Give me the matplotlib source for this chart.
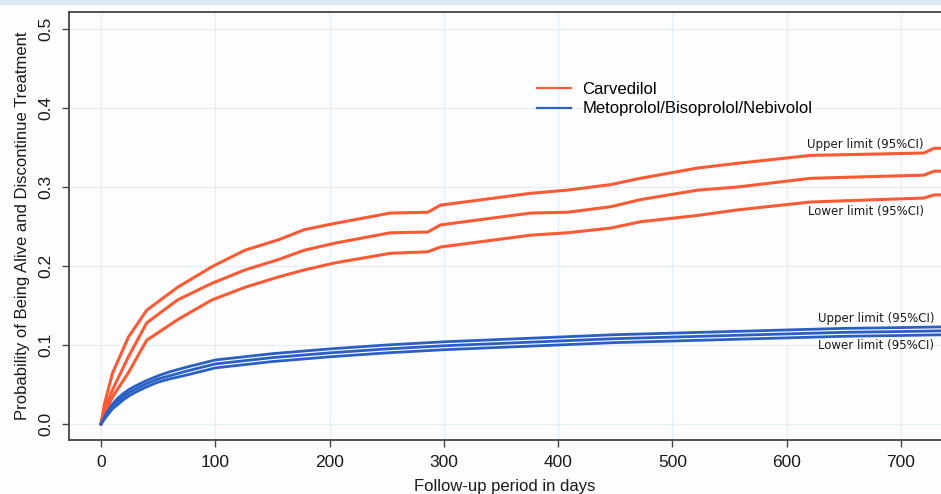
"""Cumulative probability of being alive and discontinuing treatment."""
import matplotlib
matplotlib.use("Agg")
import matplotlib.pyplot as plt
from matplotlib.lines import Line2D
from matplotlib.patches import Rectangle

# ---- data ----
carv_days = [0, 3, 10, 24, 40, 67, 97, 126, 155, 178, 205, 253, 286, 297,
             376, 408, 446, 472, 522, 557, 621, 720, 729, 740]
carv_upper = [0, 0.025, 0.064, 0.110, 0.144, 0.173, 0.199, 0.220, 0.233, 0.246,
              0.254, 0.267, 0.268, 0.277, 0.292, 0.296, 0.303, 0.311, 0.324,
              0.330, 0.340, 0.343, 0.349, 0.349]
carv_mid = [0, 0.018, 0.043, 0.085, 0.128, 0.157, 0.178, 0.195, 0.208, 0.220,
            0.229, 0.242, 0.243, 0.252, 0.267, 0.268, 0.275, 0.284, 0.296,
            0.300, 0.311, 0.315, 0.320, 0.320]
carv_lower = [0, 0.012, 0.034, 0.065, 0.106, 0.132, 0.157, 0.173, 0.186, 0.195,
              0.204, 0.216, 0.218, 0.224, 0.239, 0.242, 0.248, 0.256, 0.264,
              0.271, 0.281, 0.286, 0.290, 0.290]

beta_days = [0, 5, 10, 15, 20, 25, 30, 40, 50, 60, 75, 100, 125, 150, 200,
             250, 300, 350, 400, 450, 500, 550, 600, 650, 700, 740]
beta_mid = [0, 0.012, 0.022, 0.029, 0.035, 0.040, 0.044, 0.051, 0.057, 0.061,
            0.067, 0.076, 0.080, 0.084, 0.090, 0.095, 0.099, 0.102, 0.105,
            0.108, 0.110, 0.112, 0.114, 0.116, 0.117, 0.118]
beta_upper = [0, 0.014, 0.025, 0.033, 0.039, 0.044, 0.048, 0.055, 0.061, 0.066,
              0.072, 0.081, 0.085, 0.089, 0.095, 0.100, 0.104, 0.107, 0.110,
              0.113, 0.115, 0.117, 0.119, 0.121, 0.122, 0.123]
beta_lower = [0, 0.010, 0.019, 0.025, 0.031, 0.036, 0.040, 0.047, 0.053, 0.057,
              0.062, 0.071, 0.075, 0.079, 0.085, 0.090, 0.094, 0.097, 0.100,
              0.103, 0.105, 0.107, 0.109, 0.111, 0.112, 0.113]

legend_labels = ["Carvedilol", "Metoprolol/Bisoprolol/Nebivolol"]
x_ticks = [0, 100, 200, 300, 400, 500, 600, 700]
y_ticks = [0.0, 0.1, 0.2, 0.3, 0.4, 0.5]

RED = "#fb5a34"
BLUE = "#2a5fc4"
INK = "#1a1a1a"

plt.rcParams["font.family"] = ["Liberation Sans", "DejaVu Sans"]

fig = plt.figure(figsize=(9.41, 4.94), dpi=100)
fig.patch.set_facecolor("#fefcfc")
fig.patches.append(Rectangle((0, 0.992), 1, 0.008, transform=fig.transFigure,
                             color="#dceaf3", zorder=0))

ax = fig.add_axes([0.0733, 0.1093, 0.9267, 0.8664])
ax.set_facecolor("#fefdfd")

for ys in (carv_upper, carv_mid, carv_lower):
    ax.plot(carv_days, ys, color=RED, lw=2.2, zorder=3)
for ys in (beta_upper, beta_mid, beta_lower):
    ax.plot(beta_days, ys, color=BLUE, lw=2.0, zorder=3)

ax.set_xlim(-28, 735)
ax.set_ylim(-0.0203, 0.5215)
ax.set_xticks(x_ticks)
ax.set_yticks(y_ticks)
ax.set_yticklabels([f"{v:.1f}" for v in y_ticks], rotation=90, va="center")
ax.tick_params(axis="both", labelsize=12.5, length=5, width=1, color="#444",
               labelcolor=INK, pad=6)
ax.grid(True, color="#e4eef7", lw=0.9, zorder=0)

for side in ("left", "bottom", "top"):
    ax.spines[side].set_color("#444")
    ax.spines[side].set_linewidth(1.3)
ax.spines["right"].set_visible(False)

ax.set_ylabel("Probability of Being Alive and Discontinue Treatment",
              fontsize=12, color=INK, labelpad=6)
ax.set_xlabel("Follow-up period in days", fontsize=12, color=INK, labelpad=6)

handles = [Line2D([], [], color=RED, lw=1.6), Line2D([], [], color=BLUE, lw=1.6)]
ax.legend(handles, legend_labels, loc="upper left", frameon=False,
          bbox_to_anchor=(0.555, 0.864), bbox_transform=fig.transFigure,
          fontsize=12, handlelength=2.0, handletextpad=0.7, labelspacing=0.25)

note = dict(family="DejaVu Sans", fontsize=8.5, color=INK, ha="right",
            va="center", zorder=4)
ax.text(720, 0.354, "Upper limit (95%CI)", **note)
ax.text(720, 0.269, "Lower limit (95%CI)", **note)
ax.text(729, 0.133, "Upper limit (95%CI)", **note)
ax.text(729, 0.099, "Lower limit (95%CI)", **note)

fig.savefig("out.png", dpi=100, facecolor=fig.get_facecolor())
